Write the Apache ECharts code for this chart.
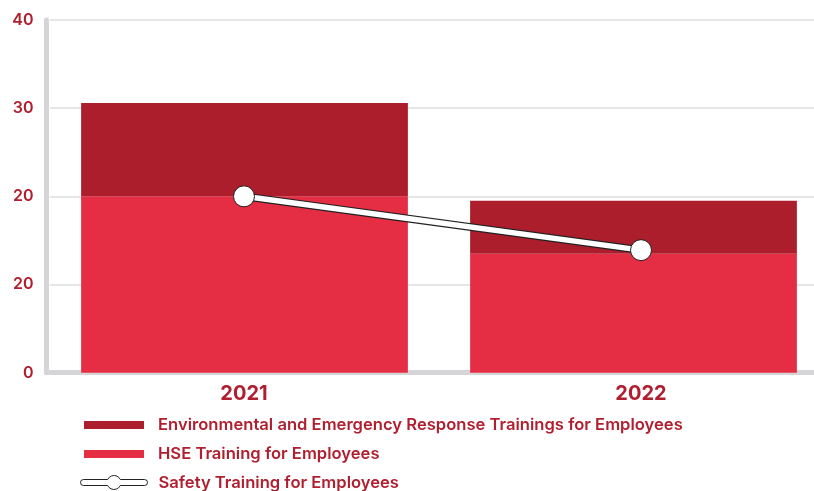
<!DOCTYPE html>
<html>
<head>
<meta charset="utf-8">
<script src="https://cdn.jsdelivr.net/npm/echarts@6/dist/echarts.min.js"></script>
<style>
  html, body { margin: 0; padding: 0; background: #ffffff; overflow: hidden; width: 814px; height: 491px; }
  #chart { width: 840px; height: 491px; }
</style>
</head>
<body>
<div id="chart"></div>
<script>
// Training hours per employee, by year
const years = ['2021', '2022'];
const hseTraining = [20, 13.5];
const envEmergencyTraining = [10.6, 6.0];
const safetyTraining = [20, 13.9];
// Y-axis tick labels as printed (ticks at 0, 10, 20, 30, 40)
const yTickLabels = ['0', '20', '20', '30', '40'];

const seriesNames = [
  'Environmental and Emergency Response Trainings for Employees',
  'HSE Training for Employees',
  'Safety Training for Employees'
];

const red = '#b01f2f';
const darkRed = '#ad1e2c';
const brightRed = '#e52e44';
const fontFamily = 'Inter, "Noto Sans", sans-serif';

const capsuleIcon = 'path://M3,4L27.18,4A7,7,0,0,1,39.82,4L64,4A3,3,0,0,1,64,10L39.82,10A7,7,0,0,1,27.18,10L3,10A3,3,0,0,1,3,4Z';

function legendText(pad) {
  return { color: red, fontSize: 16.6, fontWeight: 600, fontFamily: fontFamily, padding: [0, 0, 0, pad] };
}

const chart = echarts.init(document.getElementById('chart'), null, { renderer: 'canvas' });

chart.setOption({
  animation: false,
  backgroundColor: '#ffffff',
  grid: [
    { left: 50, top: 20, width: 778, bottom: 118.3, containLabel: false },
    // overlay grid for the safety line and year labels, slightly wider spacing
    { left: 45.5, top: 20, width: 794, bottom: 118.3, containLabel: false }
  ],
  xAxis: [
    {
      type: 'category',
      gridIndex: 0,
      data: years,
      offset: 2.3,
      axisLine: { show: true, lineStyle: { color: '#d5d5d7', width: 5 } },
      axisTick: { show: false },
      axisLabel: { show: false }
    },
    {
      type: 'category',
      gridIndex: 1,
      data: years,
      offset: 2.3,
      axisLine: { show: false },
      axisTick: { show: false },
      splitLine: { show: false },
      axisLabel: { color: red, fontSize: 20, fontWeight: 'bold', fontFamily: fontFamily, margin: 9 }
    }
  ],
  yAxis: [
    {
      type: 'value',
      gridIndex: 0,
      min: 0,
      max: 40,
      interval: 10,
      offset: 4,
      axisLine: { show: true, lineStyle: { color: '#d5d5d7', width: 5 } },
      axisTick: { show: false },
      splitLine: { show: true, lineStyle: { color: '#dedede', width: 1.5 } },
      axisLabel: {
        color: red, fontSize: 16, fontWeight: 600, fontFamily: fontFamily, margin: 12.5,
        formatter: function (v) { return yTickLabels[Math.round(v / 10)]; }
      }
    },
    { type: 'value', gridIndex: 1, min: 0, max: 40, interval: 10, show: false, splitLine: { show: false } }
  ],
  legend: [
    {
      data: [seriesNames[0]], orient: 'vertical', left: 79, top: 411.5,
      itemWidth: 60, itemHeight: 8, icon: 'rect', selectedMode: false,
      textStyle: legendText(9)
    },
    {
      data: [seriesNames[1]], orient: 'vertical', left: 79, top: 440.5,
      itemWidth: 60, itemHeight: 8, icon: 'rect', selectedMode: false,
      textStyle: legendText(9)
    },
    {
      data: [{
        name: seriesNames[2], icon: capsuleIcon,
        itemStyle: { color: '#ffffff', borderColor: '#222222', borderWidth: 1 }
      }],
      orient: 'vertical', left: 75, top: 469,
      itemWidth: 67, itemHeight: 14, selectedMode: false,
      textStyle: legendText(6)
    }
  ],
  series: [
    {
      name: seriesNames[1],
      type: 'bar',
      stack: 'total',
      data: hseTraining,
      barWidth: '84%',
      itemStyle: { color: brightRed },
      z: 2
    },
    {
      name: seriesNames[0],
      type: 'bar',
      stack: 'total',
      data: envEmergencyTraining,
      barWidth: '84%',
      itemStyle: { color: darkRed },
      z: 2
    },
    {
      // dark outline beneath the white safety line
      name: 'safety-outline',
      type: 'line',
      xAxisIndex: 1,
      yAxisIndex: 1,
      data: safetyTraining,
      symbol: 'none',
      lineStyle: { color: '#222222', width: 8 },
      silent: true,
      z: 5
    },
    {
      name: seriesNames[2],
      type: 'line',
      xAxisIndex: 1,
      yAxisIndex: 1,
      data: safetyTraining,
      symbol: 'circle',
      symbolSize: 21,
      itemStyle: { color: '#ffffff', borderColor: '#222222', borderWidth: 1 },
      lineStyle: { color: '#ffffff', width: 5.5 },
      z: 6
    }
  ]
});
</script>
</body>
</html>
